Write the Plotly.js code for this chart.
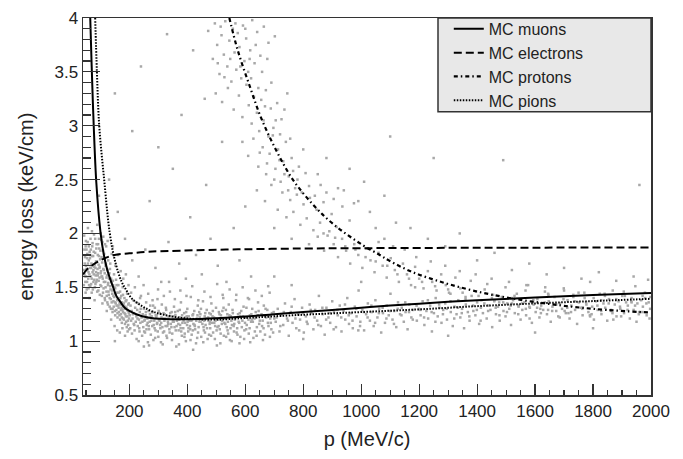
<!DOCTYPE html>
<html>
<head>
<meta charset="utf-8">
<script src="https://cdn.plot.ly/plotly-3.0.1.min.js"></script>
<style>html,body{margin:0;padding:0;background:#fff;}#chart{width:683px;height:459px;}</style>
</head>
<body>
<div id="chart"></div>
<script>
// ---- curves ----
const muonP = [65, 70, 77, 86, 100, 112, 125, 144, 155, 170, 184, 200, 224, 264, 321, 400, 500, 600, 700, 800, 900, 1000, 1100, 1200, 1300, 1400, 1600, 1800, 2000];
const muonE = [4.0, 3.55, 3.0, 2.47, 2.02, 1.8, 1.65, 1.5, 1.42, 1.36, 1.31, 1.28, 1.25, 1.22, 1.205, 1.203, 1.212, 1.228, 1.25, 1.27, 1.29, 1.31, 1.33, 1.348, 1.365, 1.38, 1.405, 1.428, 1.448];

const elecP = [40, 50, 60, 70, 80, 100, 120, 149, 200, 264, 380, 575, 800, 1000, 1300, 1600, 2000];
const elecE = [1.62, 1.655, 1.68, 1.70, 1.72, 1.75, 1.775, 1.80, 1.815, 1.83, 1.84, 1.852, 1.86, 1.863, 1.866, 1.868, 1.87];

const protP = [545, 574, 615, 655, 707, 764, 833, 902, 1006, 1064, 1098, 1178, 1282, 1385, 1502, 1617, 1732, 1847, 2000];
const protE = [4.0, 3.70, 3.37, 3.07, 2.77, 2.50, 2.27, 2.09, 1.89, 1.80, 1.745, 1.64, 1.545, 1.47, 1.405, 1.357, 1.318, 1.29, 1.265];

const pionP = [82, 88, 96, 113, 132, 150, 172, 190, 207, 230, 253, 280, 311, 368, 430, 500, 600, 800, 1000, 1200, 1400, 1600, 1800, 2000];
const pionE = [4.0, 3.5, 3.0, 2.5, 2.01, 1.75, 1.56, 1.47, 1.40, 1.35, 1.31, 1.275, 1.25, 1.22, 1.205, 1.2, 1.215, 1.245, 1.27, 1.295, 1.325, 1.35, 1.372, 1.393];

// ---- measured points (p, dE/dx) by region ----
const lowMomentum = [[45,1.62],[47,1.78],[48,1.55],[50,1.70],[52,1.85],[53,1.48],[55,1.66],[56,1.92],[58,1.58],[60,1.75],[61,1.52],[63,1.83],[64,1.68],[66,1.95],[67,1.60],[69,1.72],[70,1.45],[72,1.88],[73,1.64],[75,1.79],[76,1.55],[78,1.99],[79,1.69],[81,1.50],[82,1.82],[84,1.61],[85,1.74],[87,1.90],[88,1.57],[90,1.67],[91,1.80],[93,1.47],[94,1.71],[96,1.86],[97,1.59],[99,1.76],[100,1.52],[102,1.65],[103,1.94],[105,1.42],[106,1.73],[108,1.58],[109,1.84],[111,1.49],[112,1.66],[114,1.77],[115,1.40],[117,1.55],[118,1.70],[120,1.88],[121,1.46],[123,1.61],[124,1.36],[126,1.52],[127,1.75],[129,1.43],[130,1.58],[132,1.32],[133,1.67],[135,1.48],[136,1.39],[138,1.55],[139,1.81],[141,1.44],[142,1.30],[144,1.52],[145,1.37],[147,1.62],[148,1.41],[150,1.28],[151,1.49],[153,1.35],[154,1.57],[156,1.33],[157,1.45],[159,1.26],[160,1.40],[162,1.52],[163,1.31],[165,1.38],[166,1.24],[168,1.46],[169,1.34],[171,1.29],[172,1.42],[174,1.22],[175,1.36],[177,1.50],[178,1.27],[180,1.33],[181,1.20],[183,1.40],[184,1.30],[186,1.25],[187,1.37],[189,1.18],[190,1.31],[192,1.44],[193,1.23],[195,1.28],[196,1.15],[198,1.35],[199,1.21],[44,1.98],[57,2.05],[62,1.40],[71,2.02],[80,1.38],[89,2.08],[95,1.95],[101,2.00],[110,1.97],[116,1.90],[125,1.93],[134,1.72],[143,1.88],[152,1.70],[161,1.80],[170,1.65],[179,1.58],[188,1.62],[197,1.52],[107,1.35],[122,1.28],[137,1.20],[149,1.14],[158,1.10],[167,1.08],[176,1.12],[185,1.05],[194,1.09],[46,1.72],[49,1.88],[51,1.60],[54,1.77],[59,1.64],[65,1.80],[68,1.53],[74,1.71],[77,1.62],[83,1.68],[86,1.55],[92,1.63],[98,1.69],[104,1.60]];

const lowMomentum2 = [[42,1.66],[43,1.52],[45,1.85],[47,1.60],[49,1.45],[50,1.93],[52,1.67],[54,1.55],[55,1.81],[57,1.72],[59,1.49],[60,1.88],[62,1.62],[64,1.77],[65,1.51],[67,1.85],[68,1.68],[70,1.58],[71,1.79],[73,1.91],[74,1.48],[76,1.66],[77,1.83],[79,1.57],[80,1.71],[82,1.95],[83,1.53],[85,1.64],[86,1.86],[88,1.74],[89,1.46],[91,1.61],[92,1.90],[94,1.56],[95,1.79],[97,1.68],[98,1.43],[100,1.84],[101,1.63],[103,1.51],[104,1.78],[106,1.60],[107,1.92],[109,1.45],[110,1.67],[112,1.55],[113,1.81],[115,1.63],[116,1.38],[118,1.50],[119,1.72],[121,1.59],[122,1.42],[124,1.66],[126,1.34],[127,1.54],[128,1.46],[131,1.63],[132,1.40],[134,1.51],[136,1.30],[137,1.58],[139,1.36],[140,1.47],[142,1.27],[143,1.56],[145,1.42],[146,1.32],[148,1.50],[150,1.36],[151,1.24],[153,1.44],[155,1.29],[156,1.52],[158,1.38],[159,1.22],[161,1.33],[163,1.45],[164,1.27],[166,1.35],[168,1.20],[169,1.40],[171,1.25],[173,1.31],[174,1.17],[176,1.29],[178,1.43],[179,1.21],[181,1.35],[183,1.26],[185,1.16],[186,1.32],[188,1.23],[190,1.38],[191,1.13],[193,1.29],[195,1.19],[196,1.34],[198,1.26],[199,1.11]];

const minimumBand = [[201,1.24],[203,1.12],[204,1.33],[206,1.19],[208,1.28],[209,1.07],[211,1.21],[213,1.38],[215,1.16],[216,1.26],[218,1.10],[220,1.31],[222,1.18],[224,1.23],[225,1.02],[227,1.29],[229,1.14],[231,1.35],[233,1.20],[235,1.09],[236,1.27],[238,1.17],[240,1.42],[242,1.22],[244,1.05],[246,1.25],[248,1.13],[250,1.30],[252,1.19],[254,1.08],[256,1.24],[258,1.36],[260,1.15],[262,1.21],[264,0.99],[266,1.28],[268,1.11],[270,1.18],[272,1.33],[274,1.06],[277,1.23],[279,1.14],[281,1.27],[283,1.01],[286,1.19],[288,1.31],[290,1.10],[293,1.22],[295,1.16],[297,1.39],[300,1.04],[302,1.20],[305,1.26],[307,1.12],[310,1.17],[312,1.34],[315,0.97],[317,1.21],[320,1.09],[322,1.25],[325,1.14],[327,1.29],[330,1.03],[333,1.18],[335,1.23],[338,1.11],[340,1.46],[343,1.16],[346,1.27],[348,1.07],[351,1.20],[354,1.32],[356,1.13],[359,1.24],[362,0.95],[364,1.19],[367,1.28],[370,1.10],[373,1.22],[375,1.15],[378,1.36],[381,1.05],[384,1.21],[386,1.12],[389,1.26],[392,1.17],[395,1.00],[398,1.23],[400,1.30],[403,1.09],[406,1.19],[409,1.14],[412,1.41],[415,1.06],[418,1.24],[421,1.16],[424,1.28],[427,1.11],[430,0.98],[433,1.21],[436,1.33],[439,1.13],[442,1.18],[445,1.25],[448,1.04],[451,1.20],[454,1.37],[457,1.10],[460,1.23],[463,1.15],[467,1.29],[470,1.02],[473,1.19],[476,1.26],[479,1.12],[483,1.35],[486,1.17],[489,1.08],[492,1.22],[496,1.14],[499,1.31],[502,0.96],[506,1.20],[509,1.27],[512,1.11],[516,1.24],[519,1.16],[522,1.43],[526,1.05],[529,1.21],[533,1.29],[536,1.13],[540,1.18],[543,1.34],[547,1.01],[550,1.23],[554,1.15],[557,1.26],[561,1.09],[564,1.20],[568,1.38],[572,1.12],[575,1.25],[579,1.17],[583,1.04],[586,1.28],[590,1.19],[594,1.32],[597,1.10],[601,1.22],[605,1.15],[609,1.40],[612,1.07],[616,1.24],[620,1.18],[624,1.30],[628,1.03],[632,1.21],[636,1.27],[640,1.13],[644,1.36],[648,1.16],[652,1.09],[656,1.25],[660,1.19],[664,1.33],[668,1.06],[672,1.22],[676,1.29],[680,1.14],[684,1.45],[688,1.17],[692,1.26],[696,1.08],[700,1.21],[253,1.20],[263,1.17],[273,1.22],[284,1.15],[294,1.24],[304,1.19],[314,1.13],[324,1.21],[334,1.16],[344,1.23],[353,1.18],[363,1.14],[372,1.20],[383,1.17],[393,1.22],[404,1.12],[414,1.19],[425,1.15],[435,1.24],[446,1.18],[456,1.13],[466,1.21],[477,1.16],[487,1.23],[497,1.19],[508,1.14],[518,1.20],[528,1.17],[538,1.25],[549,1.12],[259,1.11],[278,1.27],[298,1.09],[318,1.26],[339,1.08],[358,1.27],[379,1.09],[399,1.15],[419,1.10],[441,1.27],[461,1.08],[481,1.25],[501,1.10],[521,1.28],[541,1.07],[562,1.16],[582,1.23],[603,1.11],[622,1.20],[643,1.24],[663,1.12],[683,1.23]];

const minimumBand2 = [[212,1.25],[217,1.15],[223,1.36],[228,1.21],[234,1.12],[239,1.30],[245,1.18],[251,1.09],[257,1.27],[261,1.22],[267,1.14],[271,1.25],[276,1.19],[282,1.33],[287,1.12],[291,1.24],[296,1.17],[301,1.28],[306,1.15],[311,1.22],[316,1.08],[321,1.19],[326,1.31],[331,1.14],[336,1.21],[341,1.26],[345,1.13],[350,1.18],[355,1.23],[360,1.10],[366,1.21],[369,1.16],[374,1.29],[377,1.12],[382,1.24],[387,1.19],[391,1.07],[396,1.27],[401,1.18],[405,1.23],[410,1.11],[416,1.20],[420,1.25],[426,1.14],[431,1.19],[437,1.08],[443,1.22],[447,1.30],[452,1.16],[458,1.19],[462,1.26],[468,1.12],[472,1.22],[478,1.18],[482,1.05],[488,1.28],[493,1.17],[498,1.21],[504,1.13],[511,1.25],[515,1.07],[520,1.19],[525,1.31],[531,1.16],[535,1.21],[539,1.10],[545,1.24],[552,1.19],[556,1.29],[560,1.14],[566,1.22],[570,1.08],[577,1.18],[581,1.26],[588,1.13],[592,1.23],[599,1.17],[604,1.31],[611,1.20],[615,1.12],[621,1.25],[626,1.18],[633,1.09],[638,1.22],[646,1.28],[650,1.19],[658,1.14],[665,1.24],[670,1.30],[678,1.17],[686,1.21],[690,1.11],[698,1.27],[232,1.00],[268,0.96],[289,1.03],[309,0.99],[328,1.05],[347,1.01],[371,0.97],[390,1.04],[411,1.01],[434,1.03],[455,0.99],[475,1.06],[495,1.02],[514,0.98],[534,1.04],[553,1.00],[573,1.06],[596,1.02],[617,0.99],[639,1.05],[661,1.01],[685,1.04],[206,1.45],[219,1.50],[237,1.40],[249,1.52],[265,1.44],[280,1.38],[299,1.48],[319,1.42],[337,1.55],[357,1.39],[376,1.47],[397,1.42],[417,1.51],[438,1.38],[459,1.46],[480,1.41],[503,1.53],[524,1.40],[546,1.48],[569,1.43],[591,1.50],[613,1.39],[635,1.47],[657,1.42],[679,1.51]];

const highMomentum = [[705,1.18],[712,1.30],[718,1.09],[724,1.24],[731,1.15],[737,1.35],[744,1.21],[750,1.05],[757,1.27],[763,1.17],[770,1.39],[776,1.12],[783,1.25],[789,1.20],[796,1.31],[802,1.08],[809,1.23],[815,1.16],[822,1.34],[828,1.26],[835,1.11],[841,1.29],[848,1.19],[854,1.42],[861,1.14],[867,1.25],[874,1.06],[880,1.31],[887,1.22],[893,1.17],[900,1.37],[906,1.27],[913,1.13],[919,1.24],[926,1.33],[932,1.09],[939,1.28],[945,1.20],[952,1.40],[958,1.16],[965,1.26],[971,1.12],[978,1.32],[984,1.23],[991,1.47],[997,1.18],[1004,1.29],[1010,1.10],[1017,1.25],[1023,1.35],[1030,1.19],[1036,1.27],[1043,1.14],[1049,1.38],[1056,1.22],[1062,1.30],[1069,1.08],[1075,1.26],[1082,1.17],[1088,1.33],[1095,1.24],[1101,1.44],[1108,1.20],[1114,1.28],[1121,1.13],[1127,1.36],[1134,1.25],[1140,1.31],[1147,1.18],[1153,1.27],[1160,1.11],[1166,1.34],[1173,1.22],[1179,1.29],[1186,1.50],[1192,1.19],[1199,1.30],[1205,1.24],[1212,1.37],[1218,1.15],[1225,1.28],[1231,1.21],[1238,1.33],[1244,1.09],[1251,1.26],[1257,1.40],[1264,1.23],[1270,1.31],[1277,1.17],[1283,1.29],[1290,1.35],[1296,1.20],[1303,1.45],[1309,1.27],[1316,1.14],[1322,1.32],[1329,1.25],[1335,1.38],[1342,1.22],[1348,1.30],[1355,1.12],[1361,1.34],[1368,1.27],[1374,1.19],[1381,1.42],[1387,1.28],[1394,1.24],[1400,1.36],[1407,1.16],[1413,1.31],[1420,1.26],[1426,1.48],[1433,1.21],[1439,1.33],[1446,1.29],[1452,1.13],[1459,1.37],[1465,1.25],[1472,1.32],[1478,1.19],[1485,1.41],[1491,1.28],[1498,1.23],[1504,1.35],[1511,1.30],[1517,1.15],[1524,1.38],[1530,1.26],[1537,1.44],[1543,1.32],[1550,1.20],[1556,1.29],[1563,1.36],[1569,1.24],[1576,1.52],[1582,1.31],[1589,1.17],[1595,1.34],[1602,1.27],[1608,1.39],[1615,1.22],[1621,1.33],[1628,1.29],[1634,1.46],[1641,1.25],[1647,1.37],[1654,1.18],[1660,1.32],[1667,1.41],[1673,1.28],[1680,1.23],[1686,1.35],[1693,1.30],[1699,1.49],[1706,1.26],[1712,1.38],[1719,1.21],[1725,1.33],[1732,1.43],[1738,1.29],[1745,1.16],[1751,1.36],[1758,1.31],[1764,1.24],[1771,1.40],[1777,1.34],[1784,1.27],[1790,1.55],[1797,1.32],[1803,1.20],[1810,1.37],[1816,1.29],[1823,1.44],[1829,1.25],[1836,1.35],[1842,1.31],[1849,1.19],[1855,1.39],[1862,1.28],[1868,1.47],[1875,1.34],[1881,1.23],[1888,1.37],[1894,1.30],[1901,1.42],[1907,1.26],[1914,1.36],[1920,1.33],[1927,1.21],[1933,1.40],[1940,1.29],[1946,1.51],[1953,1.35],[1959,1.27],[1966,1.38],[1972,1.32],[1979,1.45],[1985,1.24],[1992,1.36],[1998,1.41]];

const highMomentum2 = [[708,1.22],[721,1.14],[733,1.27],[747,1.19],[760,1.32],[773,1.21],[786,1.10],[799,1.26],[812,1.18],[826,1.29],[839,1.22],[852,1.15],[866,1.31],[879,1.20],[892,1.26],[905,1.11],[918,1.29],[931,1.22],[944,1.34],[957,1.24],[970,1.19],[983,1.30],[996,1.14],[1009,1.27],[1022,1.22],[1035,1.33],[1048,1.17],[1061,1.26],[1074,1.31],[1087,1.21],[1100,1.28],[1113,1.16],[1126,1.30],[1139,1.24],[1152,1.36],[1165,1.27],[1178,1.20],[1191,1.33],[1204,1.29],[1217,1.22],[1230,1.38],[1243,1.27],[1256,1.18],[1269,1.34],[1282,1.25],[1295,1.30],[1308,1.37],[1321,1.21],[1334,1.31],[1347,1.26],[1360,1.39],[1373,1.23],[1386,1.33],[1399,1.29],[1412,1.19],[1425,1.35],[1438,1.28],[1451,1.40],[1464,1.31],[1477,1.24],[1490,1.36],[1503,1.27],[1516,1.33],[1529,1.42],[1542,1.25],[1555,1.35],[1568,1.30],[1581,1.21],[1594,1.38],[1607,1.31],[1620,1.26],[1633,1.36],[1646,1.43],[1659,1.28],[1672,1.34],[1685,1.22],[1698,1.39],[1711,1.31],[1724,1.27],[1737,1.37],[1750,1.45],[1763,1.30],[1776,1.36],[1789,1.24],[1802,1.40],[1815,1.33],[1828,1.28],[1841,1.42],[1854,1.35],[1867,1.26],[1880,1.39],[1893,1.32],[1906,1.46],[1919,1.29],[1932,1.37],[1945,1.33],[1958,1.25],[1971,1.42],[1984,1.35],[1997,1.30]];

const protonBand = [[472,3.88],[488,3.62],[495,3.95],[503,3.75],[511,3.48],[518,3.84],[526,3.66],[531,3.97],[538,3.55],[545,3.79],[552,3.41],[557,3.90],[563,3.68],[569,3.52],[574,3.86],[580,3.73],[586,3.44],[592,3.93],[597,3.60],[603,3.81],[610,3.50],[617,3.70],[624,3.98],[632,3.58],[641,3.87],[652,3.65],[664,3.92],[680,3.77],[702,3.83],[498,3.30],[520,3.22],[540,3.35],[560,3.15],[578,3.28],[590,3.08],[604,3.38],[612,3.19],[622,3.02],[630,3.27],[640,3.12],[648,2.95],[655,3.24],[663,3.05],[671,3.33],[680,2.90],[688,3.16],[697,2.98],[710,3.21],[725,3.06],[745,3.30],[590,2.85],[610,2.72],[628,2.88],[645,2.62],[660,2.80],[672,2.55],[684,2.74],[695,2.91],[704,2.60],[713,2.78],[722,2.48],[731,2.67],[740,2.85],[750,2.53],[760,2.70],[772,2.42],[785,2.62],[800,2.78],[640,2.40],[668,2.30],[690,2.45],[712,2.22],[728,2.38],[742,2.15],[755,2.31],[766,2.20],[778,2.36],[790,2.08],[801,2.27],[812,2.14],[823,2.33],[835,2.03],[846,2.22],[858,2.10],[870,2.29],[884,1.98],[898,2.18],[915,2.06],[935,2.25],[960,2.12],[990,2.30],[1030,2.20],[700,2.05],[760,1.95],[820,1.90],[850,1.97],[872,1.84],[890,2.02],[905,1.90],[920,1.78],[934,1.95],[948,1.84],[962,1.72],[976,1.90],[990,1.80],[1004,1.68],[1018,1.86],[1032,1.75],[1046,1.64],[1060,1.82],[1074,1.70],[1088,1.59],[1102,1.77],[1116,1.66],[1130,1.55],[1144,1.72],[1158,1.62],[1172,1.52],[1186,1.69],[1200,1.58],[1215,1.49],[1230,1.65],[1245,1.55],[1260,1.47],[1276,1.62],[1292,1.52],[1308,1.44],[1325,1.59],[1342,1.49],[1360,1.41],[1378,1.56],[1396,1.46],[1415,1.38],[1435,1.53],[1455,1.43],[1476,1.36],[1498,1.50],[1520,1.40],[1543,1.33],[1567,1.47],[1592,1.37],[1618,1.30],[1645,1.44],[1673,1.34],[1702,1.28],[1732,1.41],[1763,1.31],[1795,1.25],[1828,1.38],[1862,1.29],[1897,1.23],[1933,1.36],[1970,1.27],[1995,1.21]];

const protonBand2 = [[505,3.58],[515,3.92],[528,3.45],[548,3.62],[566,3.95],[583,3.55],[600,3.90],[615,3.62],[636,3.75],[658,3.50],[676,3.62],[620,3.44],[645,3.35],[668,3.18],[690,3.40],[705,3.05],[720,2.92],[735,3.15],[755,2.88],[650,2.75],[675,2.65],[700,2.50],[718,2.68],[735,2.55],[748,2.40],[765,2.58],[780,2.50],[795,2.38],[808,2.56],[820,2.44],[840,2.35],[860,2.45],[880,2.38],[905,2.32],[940,2.40],[975,2.28],[1050,2.05],[1080,1.95],[1110,1.88],[1150,1.85],[1190,1.78],[1240,1.74],[1290,1.70],[1340,1.65],[1395,1.62],[1450,1.58],[1510,1.55],[1570,1.52],[1635,1.50],[1700,1.47],[1770,1.45],[1840,1.44],[1910,1.42],[1980,1.40],[870,2.00],[910,1.96],[945,1.88],[980,1.85],[1015,1.78],[1050,1.74],[1090,1.70],[1125,1.62],[1165,1.58],[1210,1.55],[1255,1.51],[1300,1.48],[1350,1.45],[1405,1.42],[1460,1.38],[1520,1.35],[1580,1.32],[1645,1.29],[1715,1.26],[1790,1.23],[1870,1.20],[1950,1.18]];

const sparseHalo = [[95,2.35],[130,2.50],[160,2.20],[185,1.95],[210,1.75],[232,1.60],[255,1.85],[270,2.30],[290,1.68],[310,1.55],[335,1.92],[350,2.60],[372,1.72],[395,1.58],[410,2.15],[430,1.80],[450,1.62],[465,2.45],[480,1.95],[505,1.70],[520,2.85],[535,1.55],[560,2.05],[580,1.75],[600,2.25],[620,1.60],[150,3.30],[240,3.55],[300,2.80],[380,3.10],[420,3.70],[460,3.25],[210,2.95],[330,3.85],[850,2.55],[880,2.70],[920,2.42],[960,2.60],[1010,2.48],[1080,2.35],[1120,2.10],[1170,2.05],[1230,1.95],[1290,1.88],[1340,2.00],[1400,1.75],[1460,1.82],[1520,1.66],[1580,1.72],[1640,1.62],[1700,1.68],[1760,1.58],[1820,1.64],[1880,1.56],[1940,1.60],[1990,1.57],[1250,2.70],[1100,2.90],[1960,2.45],[1490,2.68],[700,1.60],[760,1.52],[1000,1.55],[1060,1.92],[990,1.10],[1300,1.05],[1600,1.08],[800,1.02],[1800,1.12],[420,0.92],[580,0.98],[150,1.00],[250,0.95]];

const allPoints = lowMomentum.concat(lowMomentum2, minimumBand, minimumBand2, highMomentum, highMomentum2, protonBand, protonBand2, sparseHalo);

const FONT = 'Liberation Sans, Arial, sans-serif';

const traces = [
  {x: allPoints.map(d => d[0]), y: allPoints.map(d => d[1]), type: 'scatter', mode: 'markers',
   marker: {color: '#a8a8a8', size: 2.5, symbol: 'square'}, showlegend: false, hoverinfo: 'skip'},
  {x: muonP, y: muonE, name: 'MC muons', type: 'scatter', mode: 'lines', line: {color: '#000', width: 2, shape: 'spline'}},
  {x: elecP, y: elecE, name: 'MC electrons', type: 'scatter', mode: 'lines', line: {color: '#000', width: 2, dash: '8px,4px', shape: 'spline'}},
  {x: protP, y: protE, name: 'MC protons', type: 'scatter', mode: 'lines', line: {color: '#000', width: 2.2, dash: '4px,3px,1.5px,3px', shape: 'spline'}},
  {x: pionP, y: pionE, name: 'MC pions', type: 'scatter', mode: 'lines', line: {color: '#000', width: 2, dash: '1.5px,1.5px', shape: 'spline'}}
];

const layout = {
  width: 683, height: 459,
  margin: {l: 83, r: 32, t: 13, b: 64},
  paper_bgcolor: '#fff', plot_bgcolor: '#fff',
  font: {family: FONT, color: '#222', size: 17},
  xaxis: {
    range: [40, 2000], tick0: 0, dtick: 200, ticks: 'inside', ticklen: 11, tickwidth: 1.2, tickcolor: '#333',
    minor: {dtick: 50, tick0: 0, ticks: 'inside', ticklen: 5, tickwidth: 1.2, tickcolor: '#333', showgrid: false},
    showline: true, linecolor: '#333', linewidth: 1.5, mirror: true, showgrid: false, zeroline: false,
    tickfont: {family: FONT, size: 17, color: '#222'},
    title: {text: 'p (MeV/c)', font: {family: FONT, size: 20, color: '#222'}, standoff: 12}
  },
  yaxis: {
    range: [0.5, 4], tick0: 0.5, dtick: 0.5, ticks: 'inside', ticklen: 17, tickwidth: 1.2, tickcolor: '#333',
    minor: {dtick: 0.1, tick0: 0.5, ticks: 'inside', ticklen: 8, tickwidth: 1.2, tickcolor: '#333', showgrid: false},
    showline: true, linecolor: '#333', linewidth: 1.5, mirror: true, showgrid: false, zeroline: false,
    tickfont: {family: FONT, size: 17, color: '#222'},
    title: {text: 'energy loss (keV/cm)', font: {family: FONT, size: 20, color: '#222'}, standoff: 15}
  },
  shapes: [
    {type: 'rect', xref: 'paper', yref: 'paper', x0: 0.625, x1: 1, y0: 0.751, y1: 1,
     fillcolor: '#e8e8e8', line: {color: '#333', width: 1.5}, layer: 'above'}
  ],
  legend: {
    x: 0.644, y: 1.016, xanchor: 'left', yanchor: 'top',
    bgcolor: 'rgba(0,0,0,0)', borderwidth: 0,
    font: {family: FONT, size: 16, color: '#222'},
    tracegroupgap: 0
  },
  showlegend: true
};

Plotly.newPlot('chart', traces, layout, {displayModeBar: false, staticPlot: true});
</script>
</body>
</html>
